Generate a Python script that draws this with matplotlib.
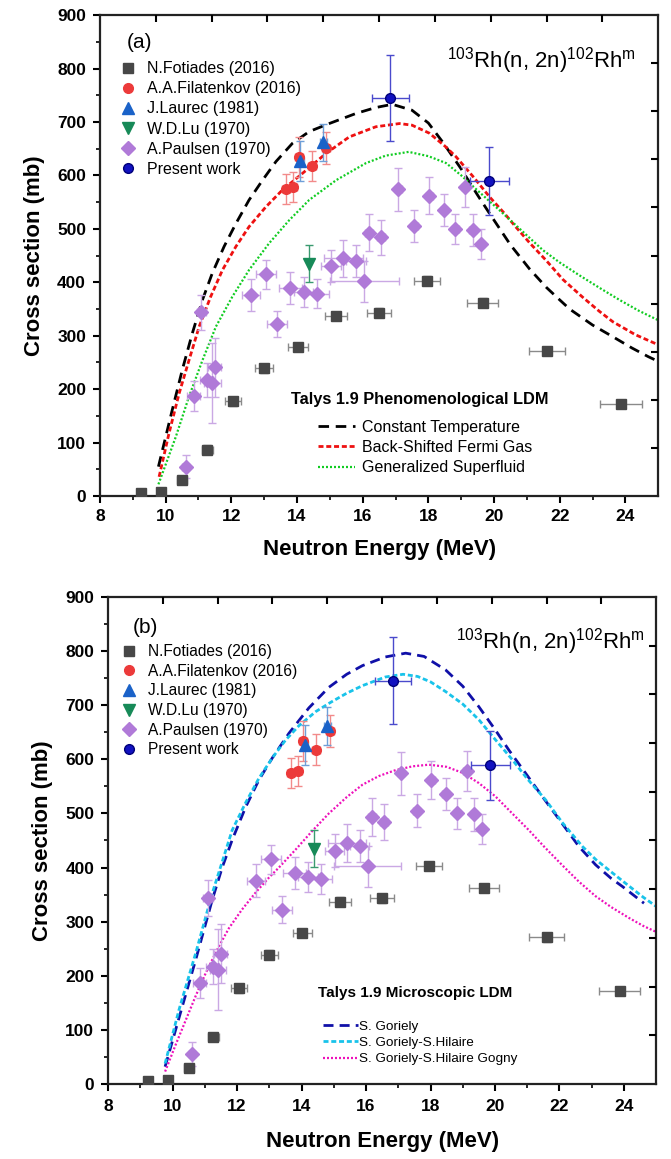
import numpy as np
import matplotlib
matplotlib.use('Agg')
import matplotlib.pyplot as plt

plt.rcParams['font.family'] = ['Liberation Sans', 'DejaVu Sans']
plt.rcParams['mathtext.default'] = 'regular'

fot_e = [9.24, 9.85, 10.51, 11.27, 12.06, 13.0, 14.03, 15.19, 16.49, 17.96, 19.66, 21.6, 23.87]
fot_s = [5, 7, 30, 87, 177, 239, 279, 337, 343, 403, 362, 271, 172]
fot_de = [0.12, 0.12, 0.15, 0.17, 0.24, 0.27, 0.29, 0.33, 0.37, 0.4, 0.47, 0.55, 0.63]
fot_ds = [4, 4, 6, 8, 8, 8, 8, 8, 8, 8, 8, 8, 8]

fil_e = [13.66, 13.88, 14.05, 14.45, 14.88]
fil_s = [575, 578, 634, 618, 652]
fil_de = [0.12, 0.12, 0.12, 0.12, 0.12]
fil_ds = [28, 28, 37, 28, 30]

lau_e = [14.1, 14.8]
lau_s = [627, 662]
lau_de = [0.1, 0.1]
lau_ds = [37, 35]

lu_e = [14.38]
lu_s = [435]
lu_ds = [34]

pau_e = [10.61, 10.85, 11.09, 11.25, 11.42, 11.5, 12.59, 13.05, 13.39, 13.79, 14.2, 14.6, 15.03,
         15.41, 15.8, 16.05, 16.18, 16.56, 17.09, 17.57, 18.03, 18.47, 18.82, 19.12, 19.35, 19.6]
pau_s = [55, 187, 344, 217, 211, 241, 376, 415, 322, 390, 382, 379, 431,
         445, 440, 402, 493, 484, 574, 505, 562, 536, 500, 578, 498, 471]
pau_de = [0.1, 0.2, 0.15, 0.2, 0.25, 0.2, 0.28, 0.3, 0.3, 0.35, 0.3, 0.36, 0.3,
          0.6, 0.3, 1.05, 0.12, 0.12, 0.1, 0.1, 0.1, 0.1, 0.1, 0.1, 0.1, 0.1]
pau_ds = [22, 28, 33, 32, 75, 55, 30, 27, 25, 30, 28, 28, 30,
          35, 30, 38, 35, 33, 40, 30, 35, 30, 28, 37, 30, 28]

pw_e = [16.84, 19.86]
pw_s = [745, 589]
pw_de = [0.56, 0.6]
pw_ds = [80, 64]

# ---- TALYS curves, panel (a) ----
ct_e = [9.78, 10.2, 10.51, 10.81, 11.12, 11.42, 11.78, 12.14, 12.54, 12.95, 13.36, 13.86, 14.37,
        14.98, 15.8, 16.4, 16.9, 17.5, 18.0, 18.44, 19.0, 19.5, 19.86, 20.5, 21.08, 21.6, 22.0,
        22.3, 23.0, 23.62, 24.2, 24.69, 25.0]
ct_s = [55, 161, 237, 304, 367, 417, 467, 510, 554, 591, 626, 660, 682,
        697, 716, 727, 733, 722, 698, 662, 612, 563, 529, 470, 425, 390, 367,
        350, 320, 298, 277, 261, 252]
bs_e = [9.8, 10.1, 10.41, 10.71, 11.02, 11.37, 11.73, 12.14, 12.54, 13.05, 13.56, 14.17, 14.88,
        15.59, 16.4, 17.12, 17.5, 18.03, 18.5, 18.84, 19.4, 19.86, 20.3, 20.67, 21.08, 21.6,
        22.1, 22.7, 23.2, 23.62, 24.3, 25.0]
bs_s = [36, 117, 192, 254, 317, 373, 423, 467, 504, 541, 573, 604, 641,
        672, 691, 697, 694, 679, 655, 635, 595, 560, 530, 503, 474, 440,
        405, 372, 346, 326, 302, 283]
gs_e = [9.78, 10.31, 10.71, 11.12, 11.53, 12.03, 12.54, 13.15, 13.76, 14.37, 15.19, 16.1, 16.7,
        17.4, 18.0, 18.54, 19.0, 19.35, 19.8, 20.27, 20.8, 21.49, 22.0, 22.6, 23.2, 23.82,
        24.4, 25.0]
gs_s = [22, 111, 186, 254, 317, 373, 423, 473, 516, 554, 591, 623, 637,
        644, 636, 623, 600, 580, 555, 529, 499, 460, 437, 413, 390, 367,
        347, 329]

# ---- TALYS curves, panel (b) ----
go_e = [9.77, 10.2, 10.72, 11.23, 11.54, 11.85, 12.27, 12.68, 13.1, 13.61, 14.23, 14.85, 15.4,
        15.89, 16.6, 17.23, 17.8, 18.47, 19.0, 19.5, 20.0, 20.43, 21.0, 21.47, 22.0, 22.6,
        23.12, 23.6, 23.95, 24.62]
go_s = [32, 122, 230, 340, 400, 451, 512, 562, 603, 648, 695, 733, 757,
        773, 789, 796, 790, 765, 735, 697, 655, 617, 570, 531, 488, 439,
        405, 380, 365, 334]
gh_e = [9.77, 10.2, 10.72, 11.23, 11.85, 12.27, 12.68, 13.1, 13.5, 13.92, 14.44, 14.9, 15.4,
        15.89, 16.6, 17.15, 17.6, 18.0, 18.47, 19.0, 19.5, 20.0, 20.54, 21.0, 21.57, 22.1,
        22.71, 23.12, 23.6, 24.15, 24.6, 25.0]
gh_s = [38, 137, 242, 352, 469, 520, 565, 603, 635, 662, 688, 705, 722,
        736, 752, 757, 753, 743, 725, 702, 673, 637, 599, 564, 525, 482,
        439, 415, 392, 366, 345, 328]
gg_e = [9.77, 10.1, 10.41, 10.72, 11.03, 11.4, 11.75, 12.15, 12.58, 13.0, 13.3, 13.8, 14.34,
        14.85, 15.4, 15.89, 16.4, 16.92, 17.45, 17.95, 18.5, 18.99, 19.5, 20.02, 20.5, 21.05,
        21.5, 22.09, 22.6, 23.12, 23.6, 24.15, 24.6, 25.0]
gg_s = [23, 73, 118, 163, 205, 250, 288, 322, 354, 382, 400, 432, 468,
        500, 530, 553, 569, 580, 587, 590, 586, 575, 556, 531, 502, 469,
        440, 404, 374, 347, 327, 307, 292, 281]

fig = plt.figure(figsize=(6.71, 11.59), dpi=100)
ax_a = fig.add_axes([0.149, 0.572, 0.832, 0.415])
ax_b = fig.add_axes([0.161, 0.0647, 0.817, 0.4203])


def draw_data(ax):
    ax.errorbar(fot_e, fot_s, xerr=fot_de, yerr=fot_ds, fmt='none', ecolor='#8a8a8a',
                elinewidth=1, capsize=3, zorder=3)
    ax.plot(fot_e, fot_s, 's', color='#474747', ms=7, zorder=4, label='N.Fotiades (2016)')
    ax.errorbar(fil_e, fil_s, xerr=fil_de, yerr=fil_ds, fmt='none', ecolor='#f28a8a',
                elinewidth=1, capsize=3, zorder=3)
    ax.plot(fil_e, fil_s, 'o', color='#ec3a3a', ms=7, zorder=4, label='A.A.Filatenkov (2016)')
    ax.errorbar(lau_e, lau_s, xerr=lau_de, yerr=lau_ds, fmt='none', ecolor='#6f9fd8',
                elinewidth=1, capsize=3, zorder=3)
    ax.plot(lau_e, lau_s, '^', color='#1a62c8', ms=8, zorder=4, label='J.Laurec (1981)')
    ax.errorbar(lu_e, lu_s, yerr=lu_ds, fmt='none', ecolor='#3a9a70',
                elinewidth=1, capsize=3, zorder=3)
    ax.plot(lu_e, lu_s, 'v', color='#178a58', ms=8, zorder=4, label='W.D.Lu (1970)')
    ax.errorbar(pau_e, pau_s, xerr=pau_de, yerr=pau_ds, fmt='none', ecolor='#caa8e4',
                elinewidth=1, capsize=3, zorder=3)
    ax.plot(pau_e, pau_s, 'D', color='#b07ad8', ms=7, zorder=4, label='A.Paulsen (1970)')
    ax.errorbar(pw_e, pw_s, xerr=pw_de, yerr=pw_ds, fmt='none', ecolor='#4a4acc',
                elinewidth=1, capsize=3, zorder=5)
    ax.plot(pw_e, pw_s, 'o', color='#1111c0', mec='#00007a', ms=7, zorder=6, label='Present work')


def style_axes(ax, xpad, lpad):
    ax.set_xlim(8, 25)
    ax.set_ylim(0, 900)
    ax.set_xticks(np.arange(8, 25, 2))
    ax.set_xticks(np.arange(9, 25, 2), minor=True)
    ax.set_yticks(np.arange(0, 901, 100))
    ax.set_yticks(np.arange(50, 900, 100), minor=True)
    ax.tick_params(which='major', direction='out', length=5, width=1.5, labelsize=12.5)
    ax.tick_params(which='minor', direction='out', length=3, width=1.2)
    ax.tick_params(axis='x', pad=xpad)
    ax.tick_params(axis='y', pad=5)
    for lab in ax.get_xticklabels() + ax.get_yticklabels():
        lab.set_fontweight('bold')
    for sp in ax.spines.values():
        sp.set_linewidth(1.6)
        sp.set_color('#222222')
    ax.set_xlabel('Neutron Energy (MeV)', fontsize=16, fontweight='bold', labelpad=lpad)
    ax.set_ylabel('Cross section (mb)', fontsize=16, fontweight='bold', labelpad=9)
    # top / right ticks drawn on their own scale, pointing inward
    tx = ax.twiny()
    tx.set_xlim(0, 10)
    tx.set_xticks(np.arange(1, 10))
    tx.tick_params(direction='in', length=5, width=1.5, labeltop=False)
    ty = ax.twinx()
    ty.set_ylim(0, 10)
    ty.set_yticks(np.arange(1, 10))
    ty.tick_params(direction='in', length=5, width=1.5, labelright=False)
    for t in (tx, ty):
        for sp in t.spines.values():
            sp.set_visible(False)


# ---- panel (a) ----
ax = ax_a
c1, = ax.plot(ct_e, ct_s, color='black', lw=2, dashes=(3.8, 2.4), zorder=2,
              label='Constant Temperature')
c2, = ax.plot(bs_e, bs_s, color='#ee1111', lw=2, dashes=(1.8, 1.0), zorder=2,
              label='Back-Shifted Fermi Gas')
c3, = ax.plot(gs_e, gs_s, color='#11cc22', lw=1.6, dashes=(0.9, 0.9), zorder=2,
              label='Generalized Superfluid')
draw_data(ax)
h, l = ax.get_legend_handles_labels()
leg1 = ax.legend(h[3:], l[3:], loc='upper left', bbox_to_anchor=(0.033, 0.904), frameon=False,
                 fontsize=11.5, handlelength=1.2, handletextpad=0.6, labelspacing=0.32,
                 borderpad=0, borderaxespad=0)
ax.add_artist(leg1)
ax.legend([c1, c2, c3], [c1.get_label(), c2.get_label(), c3.get_label()], loc='upper left',
          bbox_to_anchor=(0.391, 0.159), frameon=False, fontsize=11.5,
          handlelength=2.3, handletextpad=0.45, labelspacing=0.33, borderpad=0, borderaxespad=0)
ax.text(0.573, 0.2, 'Talys 1.9 Phenomenological LDM', transform=ax.transAxes,
        fontsize=11.8, fontweight='bold', ha='center', va='center')
ax.text(0.048, 0.942, '(a)', transform=ax.transAxes, fontsize=15, va='center')
ax.text(0.96, 0.892, r'$^{103}$Rh(n, 2n)$^{102}$Rh$^{m}$', transform=ax.transAxes,
        fontsize=16, ha='right', va='baseline')
style_axes(ax, 4, 11)

# ---- panel (b) ----
ax = ax_b
d1, = ax.plot(go_e, go_s, color='#1010a8', lw=2, dashes=(3.6, 2.2), zorder=2,
              label='S. Goriely')
d2, = ax.plot(gh_e, gh_s, color='#19c3ea', lw=2, dashes=(1.8, 1.0), zorder=2,
              label='S. Goriely-S.Hilaire')
d3, = ax.plot(gg_e, gg_s, color='#ee11bb', lw=1.6, dashes=(0.9, 0.9), zorder=2,
              label='S. Goriely-S.Hilaire Gogny')
draw_data(ax)
h, l = ax.get_legend_handles_labels()
leg2 = ax.legend(h[3:], l[3:], loc='upper left', bbox_to_anchor=(0.021, 0.903), frameon=False,
                 fontsize=11.2, handlelength=1.2, handletextpad=0.6, labelspacing=0.3,
                 borderpad=0, borderaxespad=0)
ax.add_artist(leg2)
ax.legend([d1, d2, d3], [d1.get_label(), d2.get_label(), d3.get_label()], loc='upper left',
          bbox_to_anchor=(0.392, 0.130), frameon=False, fontsize=9.7,
          handlelength=2.6, handletextpad=0.1, labelspacing=0.27, borderpad=0, borderaxespad=0)
ax.text(0.56, 0.187, 'Talys 1.9 Microscopic LDM', transform=ax.transAxes,
        fontsize=11, fontweight='bold', ha='center', va='center')
ax.text(0.046, 0.938, '(b)', transform=ax.transAxes, fontsize=15, va='center')
ax.text(0.98, 0.895, r'$^{103}$Rh(n, 2n)$^{102}$Rh$^{m}$', transform=ax.transAxes,
        fontsize=16, ha='right', va='baseline')
style_axes(ax, 6, 12)

fig.savefig('out.png', dpi=100)
